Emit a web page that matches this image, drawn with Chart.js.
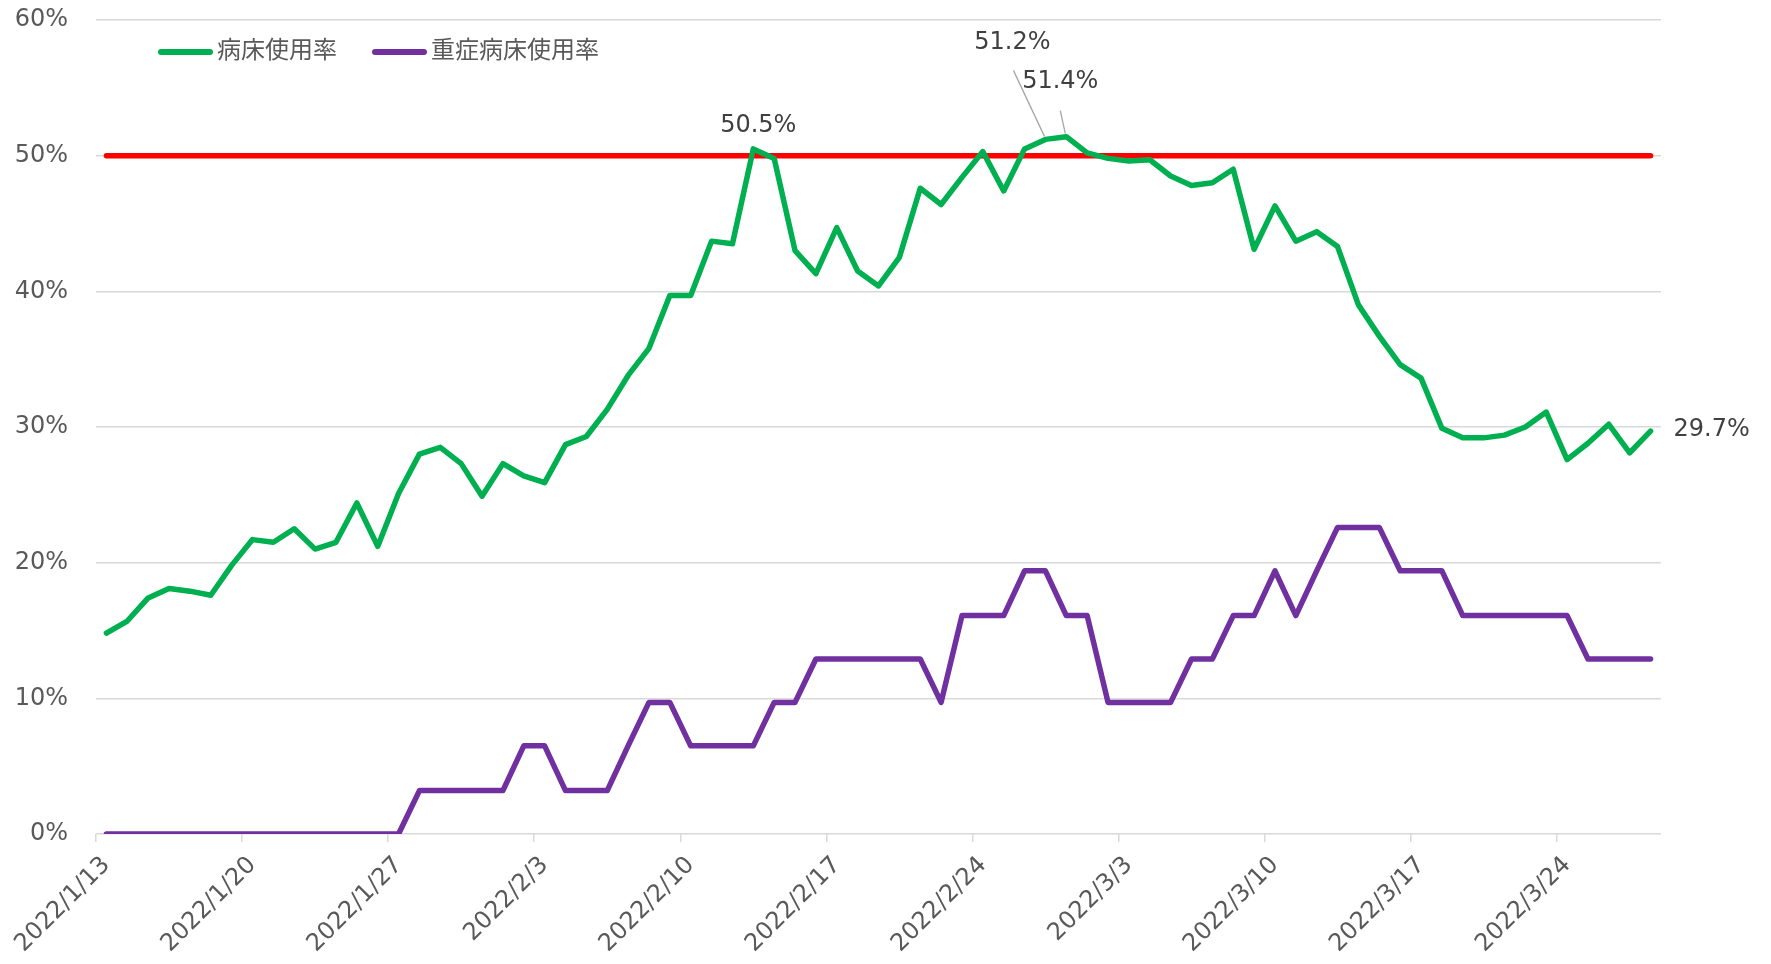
<!DOCTYPE html>
<html>
<head>
<meta charset="utf-8">
<script src="https://cdn.jsdelivr.net/npm/chart.js@4.4.1/dist/chart.umd.min.js"></script>
<style>
html,body{margin:0;padding:0;background:#ffffff;}
#wrap{width:1771px;height:964px;position:relative;}
</style>
</head>
<body>
<div id="wrap"><canvas id="c" width="1771" height="964"></canvas></div>
<script>
// ---- data ----
const dates = [
 '2022/1/13','2022/1/14','2022/1/15','2022/1/16','2022/1/17','2022/1/18','2022/1/19','2022/1/20','2022/1/21','2022/1/22',
 '2022/1/23','2022/1/24','2022/1/25','2022/1/26','2022/1/27','2022/1/28','2022/1/29','2022/1/30','2022/1/31','2022/2/1',
 '2022/2/2','2022/2/3','2022/2/4','2022/2/5','2022/2/6','2022/2/7','2022/2/8','2022/2/9','2022/2/10','2022/2/11',
 '2022/2/12','2022/2/13','2022/2/14','2022/2/15','2022/2/16','2022/2/17','2022/2/18','2022/2/19','2022/2/20','2022/2/21',
 '2022/2/22','2022/2/23','2022/2/24','2022/2/25','2022/2/26','2022/2/27','2022/2/28','2022/3/1','2022/3/2','2022/3/3',
 '2022/3/4','2022/3/5','2022/3/6','2022/3/7','2022/3/8','2022/3/9','2022/3/10','2022/3/11','2022/3/12','2022/3/13',
 '2022/3/14','2022/3/15','2022/3/16','2022/3/17','2022/3/18','2022/3/19','2022/3/20','2022/3/21','2022/3/22','2022/3/23',
 '2022/3/24','2022/3/25','2022/3/26','2022/3/27','2022/3/28'
];
const bedRate = [
 14.8,15.7,17.4,18.1,17.9,17.6,19.8,21.7,21.5,22.5,
 21.0,21.5,24.4,21.2,25.1,28.0,28.5,27.3,24.9,27.3,
 26.4,25.9,28.7,29.3,31.3,33.8,35.8,39.7,39.7,43.7,
 43.5,50.5,49.8,43.0,41.3,44.7,41.5,40.4,42.5,47.6,
 46.4,48.4,50.3,47.4,50.5,51.2,51.4,50.2,49.8,49.6,
 49.7,48.5,47.8,48.0,49.0,43.1,46.3,43.7,44.4,43.3,
 39.0,36.7,34.6,33.6,29.9,29.2,29.2,29.4,30.0,31.1,
 27.6,28.8,30.2,28.1,29.7
];
const severeRate = [
 0,0,0,0,0,0,0,0,0,0,
 0,0,0,0,0,3.2,3.2,3.2,3.2,3.2,
 6.5,6.5,3.2,3.2,3.2,6.5,9.7,9.7,6.5,6.5,
 6.5,6.5,9.7,9.7,12.9,12.9,12.9,12.9,12.9,12.9,
 9.7,16.1,16.1,16.1,19.4,19.4,16.1,16.1,9.7,9.7,
 9.7,9.7,12.9,12.9,16.1,16.1,19.4,16.1,19.4,22.6,
 22.6,22.6,19.4,19.4,19.4,16.1,16.1,16.1,16.1,16.1,
 16.1,12.9,12.9,12.9,12.9
];
const thresholdValue = 50;
const seriesNames = ['病床使用率', '重症病床使用率'];
const yTickValues = [0, 10, 20, 30, 40, 50, 60];
const labeledPoints = [31, 45, 46, 74];
const xLabelEvery = 7;

// ---- styles ----
const NUM_FONT = '"DejaVu Sans", Verdana, sans-serif';
const JP_FONT = '"Noto Sans CJK JP", "Noto Sans", sans-serif';
const AXIS_COLOR = '#595959';
const GRID_COLOR = '#d9d9d9';

const labelStyle = {
  31: {dx: 5, dy: -23, align: 'center'},
  45: {dx: -33, dy: -97, align: 'center', leader: [-32, -69, -1, -3]},
  46: {dx: -6, dy: -55, align: 'center', leader: [-6, -26, -1, -3]},
  74: {dx: 23, dy: -1, align: 'left'}
};

const legendStyle = {offsetX: 62, lineDy: 32, textDy: 29, lineLen: 55, lineWidth: 6, gap: 4, itemGap: 35};

const pointLabels = {
  id: 'pointLabels',
  afterDatasetsDraw(chart) {
    const ctx = chart.ctx;
    const meta = chart.getDatasetMeta(0);
    ctx.save();
    ctx.font = '24px ' + NUM_FONT;
    ctx.fillStyle = '#404040';
    ctx.textBaseline = 'middle';
    labeledPoints.forEach(i => {
      const el = meta.data[i];
      const st = labelStyle[i];
      if (st.leader) {
        ctx.strokeStyle = '#a6a6a6';
        ctx.lineWidth = 1.3;
        ctx.beginPath();
        ctx.moveTo(el.x + st.leader[0], el.y + st.leader[1]);
        ctx.lineTo(el.x + st.leader[2], el.y + st.leader[3]);
        ctx.stroke();
      }
      ctx.textAlign = st.align;
      ctx.fillText(bedRate[i].toFixed(1) + '%', el.x + st.dx, el.y + st.dy);
    });
    ctx.restore();
  }
};

const innerLegend = {
  id: 'innerLegend',
  afterDraw(chart) {
    const ctx = chart.ctx;
    const a = chart.chartArea;
    const s = legendStyle;
    let x = a.left + s.offsetX;
    ctx.save();
    ctx.font = '24px ' + JP_FONT;
    ctx.textBaseline = 'middle';
    ctx.textAlign = 'left';
    [0, 1].forEach(di => {
      const ds = chart.data.datasets[di];
      ctx.strokeStyle = ds.borderColor;
      ctx.lineWidth = s.lineWidth;
      ctx.lineCap = 'round';
      ctx.beginPath();
      ctx.moveTo(x + s.lineWidth / 2, a.top + s.lineDy);
      ctx.lineTo(x + s.lineLen - s.lineWidth / 2, a.top + s.lineDy);
      ctx.stroke();
      ctx.fillStyle = AXIS_COLOR;
      ctx.fillText(ds.label, x + s.lineLen + s.gap, a.top + s.textDy);
      x += s.lineLen + s.gap + ctx.measureText(ds.label).width + s.itemGap;
    });
    ctx.restore();
  }
};

new Chart(document.getElementById('c'), {
  type: 'line',
  data: {
    labels: dates,
    datasets: [
      {label: seriesNames[0], data: bedRate, borderColor: '#00b050', backgroundColor: '#00b050',
       borderWidth: 5.5, pointRadius: 0, tension: 0, borderJoinStyle: 'round', borderCapStyle: 'round'},
      {label: seriesNames[1], data: severeRate, borderColor: '#7030a0', backgroundColor: '#7030a0',
       borderWidth: 5.5, pointRadius: 0, tension: 0, borderJoinStyle: 'round', borderCapStyle: 'round'},
      {label: 'threshold', data: dates.map(() => thresholdValue), borderColor: '#ff0000', backgroundColor: '#ff0000',
       borderWidth: 5.5, pointRadius: 0, tension: 0, borderCapStyle: 'round'}
    ]
  },
  options: {
    responsive: false,
    devicePixelRatio: 1,
    animation: false,
    layout: {padding: {top: 20, right: 110, bottom: 0, left: 0}},
    plugins: {legend: {display: false}, tooltip: {enabled: false}},
    scales: {
      x: {
        offset: true,
        border: {display: false},
        grid: {
          offset: true, drawOnChartArea: false, drawTicks: true, tickLength: 8, lineWidth: 1.5,
          color: c => (c.index !== undefined && c.index % xLabelEvery === 0 ? GRID_COLOR : 'rgba(0,0,0,0)')
        },
        ticks: {
          autoSkip: false, minRotation: 45, maxRotation: 45, padding: 9, color: AXIS_COLOR,
          font: {family: NUM_FONT, size: 24},
          callback: (v, i) => (i % xLabelEvery === 0 ? dates[i] : '')
        },
        afterFit: s => { s.height = 130; s.paddingLeft = 0; s.paddingRight = 0; }
      },
      y: {
        min: 0, max: 60,
        border: {display: false},
        grid: {color: GRID_COLOR, lineWidth: 1.5, drawTicks: false},
        ticks: {padding: 28, color: AXIS_COLOR, font: {family: NUM_FONT, size: 24}, callback: v => v + '%'},
        afterBuildTicks: s => { s.ticks = yTickValues.map(v => ({value: v})); },
        afterFit: s => { s.width = 96; s.paddingTop = 0; s.paddingBottom = 0; }
      }
    }
  },
  plugins: [pointLabels, innerLegend]
});
</script>
</body>
</html>
